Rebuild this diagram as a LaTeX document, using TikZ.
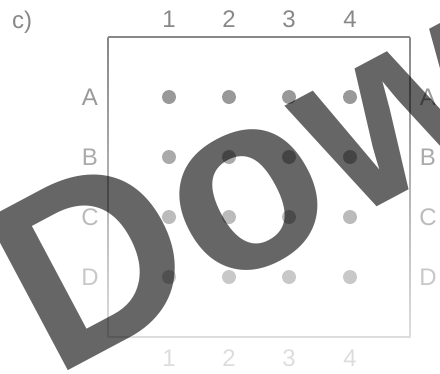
\documentclass[tikz,border=0pt]{standalone}
\usepackage{fontspec}
\setmainfont{Liberation Sans}
\usepackage{tikz}
\usetikzlibrary{positioning}
\definecolor{toptxt}{HTML}{888888}
\definecolor{rowA}{HTML}{999999}
\definecolor{rowB}{HTML}{AAAAAA}
\definecolor{rowC}{HTML}{BBBBBB}
\definecolor{rowD}{HTML}{C8C8C8}
\definecolor{bottxt}{HTML}{DDDDDD}

\begin{document}
\begin{tikzpicture}[x=1pt,y=-1pt,
    lbl/.style={font=\fontsize{24}{28}\selectfont, inner sep=0pt}]
    \useasboundingbox (0,0) rectangle (440,373);
    % panel tag
    \node[lbl, text=toptxt] (tag) at (22,22) {c)};
    % frame, fading downwards
    \draw[toptxt, line width=1.2] (108,37) -- (410,37);
    \draw[bottxt, line width=1.2] (108,337) -- (410,337);
    \shade[top color=toptxt, bottom color=bottxt] (107.4,37) rectangle (108.6,337);
    \shade[top color=toptxt, bottom color=bottxt] (409.4,37) rectangle (410.6,337);
    % column numbers
    \foreach \c/\x in {1/169,2/229,3/289,4/350} {
        \node[lbl, text=toptxt] (top\c) at (\x,19) {\c};
        \node[lbl, text=bottxt] (bot\c) at (\x,358) {\c};
    }
    % rows of wells
    \foreach \r/\y/\col in {A/97/rowA,B/157/rowB,C/217/rowC,D/277/rowD} {
        \node[lbl, text=\col] (left\r) at (90,\y) {\r};
        \node[lbl, text=\col] (right\r) at (428,\y) {\r};
        \foreach \x in {169,229,289,350} {
            \fill[\col] (\x,\y) circle (7);
        }
    }
    % watermark
    \begin{scope}
        \clip (0,0) rectangle (440,373);
        \node[anchor=base west, rotate=28, inner sep=0pt, text=black, text opacity=0.6,
              font=\bfseries\fontsize{250}{290}\selectfont] (mark) at (53,379) {Download};
    \end{scope}
\end{tikzpicture}
\end{document}
